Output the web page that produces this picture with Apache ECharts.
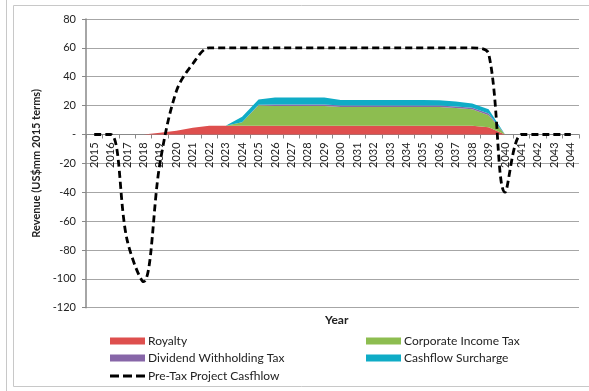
<!DOCTYPE html>
<html>
<head>
<meta charset="utf-8">
<script src="https://cdn.jsdelivr.net/npm/echarts@6/dist/echarts.min.js"></script>
<style>html,body{margin:0;padding:0;background:#fff}#c{width:589px;height:391px}</style>
</head>
<body>
<div id="c"></div>
<script>
var years = ['2015','2016','2017','2018','2019','2020','2021','2022','2023','2024','2025','2026','2027','2028','2029','2030','2031','2032','2033','2034','2035','2036','2037','2038','2039','2040','2041','2042','2043','2044'];
var royalty = [0,0,0,0,1.2,2.6,4.6,6,6,6,6,6,6,6,6,6,6,6,6,6,6,6,6,6,5,0,0,0,0,0];
var corporateIncomeTax = [0,0,0,0,0,0,0,0,0,2.4,14.3,13.8,13.8,13.8,13.8,13.1,13.1,13.1,13.1,13.1,13.1,13,12.3,11.5,8.4,0,0,0,0,0];
var dividendWithholdingTax = [0,0,0,0,0,0,0,0,0,0,0.3,1,1,1,1,1,1,1,1,1,1,1,1,1,1.1,0,0,0,0,0];
var cashflowSurcharge = [0,0,0,0,0,0,0,0,0,3.9,3.6,4.8,4.8,4.8,4.8,3.7,3.7,3.7,3.7,3.7,3.7,3.7,3.5,3,3,0,0,0,0,0];
var preTaxCashflow = [0,0,-73,-102,-20,30,49,60,60,60,60,60,60,60,60,60,60,60,60,60,60,60,60,60,56,-40,0,0,0,0];
var yTicks = [-120,-100,-80,-60,-40,-20,0,20,40,60,80];
var yMin = -120, yMax = 80;

var FONT = 'Lato';
var GRID_TOP = 19, GRID_BOTTOM = 83.3, H = 391;
var plotH = H - GRID_TOP - GRID_BOTTOM;
// distance from bottom of plot to the zero line (to place the category axis on zero)
var zeroOffset = -plotH * (0 - yMin) / (yMax - yMin);

var chart = echarts.init(document.getElementById('c'), null, {renderer:'canvas'});
function area(name, data, color){
  return {name:name, type:'line', stack:'tax', data:data, symbol:'none',
    lineStyle:{width:0, color:color}, itemStyle:{color:color},
    areaStyle:{color:color, opacity:1}, z:2};
}
function leg(name, left, top, icon, ih){
  return {data:[{name:name, icon:icon}], left:left, top:top, itemWidth:35, itemHeight:ih, itemGap:0,
    textStyle:{fontFamily:FONT, fontSize:12, color:'#222', padding:[0,0,0,-2]}};
}
var dashIcon = 'path://M0,0h9v3h-9zM13,0h9v3h-9zM26,0h9v3h-9z';
chart.setOption({
  animation:false,
  backgroundColor:'#fff',
  graphic:[
    {type:'rect', shape:{x:13.5, y:5.5, width:600, height:381}, style:{fill:'none', stroke:'#C8C8C8', lineWidth:1}, silent:true},
    {type:'line', shape:{x1:6.5, y1:0, x2:6.5, y2:391}, style:{stroke:'#C8C8C8', lineWidth:1}, silent:true}
  ],
  title:{text:'Year', left:320, top:309, textStyle:{fontFamily:FONT, fontSize:12, fontWeight:'bold', color:'#222'}},
  grid:{left:86, right:10, top:GRID_TOP, bottom:GRID_BOTTOM},
  legend:[
    leg('Royalty',105,330,'rect',7),
    leg('Dividend Withholding Tax',105,347,'rect',7),
    leg('Pre-Tax Project Casfhlow',105,365,dashIcon,3),
    leg('Corporate Income Tax',361,330,'rect',7),
    leg('Cashflow Surcharge',361,347,'rect',7)
  ],
  xAxis:{type:'category', data:years, boundaryGap:true, position:'bottom', offset:zeroOffset,
    axisLine:{onZero:false, lineStyle:{color:'#888', width:1}},
    axisTick:{show:true, interval:0, length:4, lineStyle:{color:'#888'}},
    axisLabel:{rotate:90, interval:0, margin:8, fontFamily:FONT, fontSize:11, color:'#222'},
    splitLine:{show:false}},
  yAxis:{type:'value', min:yMin, max:yMax, interval:20,
    name:'Revenue (US$mm 2015 terms)', nameLocation:'middle', nameGap:38,
    nameTextStyle:{fontFamily:FONT, fontSize:11, fontWeight:'bold', color:'#222'},
    axisLine:{show:true, lineStyle:{color:'#888', width:1.5}},
    axisTick:{show:true, length:4, lineStyle:{color:'#888'}},
    axisLabel:{margin:10, fontFamily:FONT, fontSize:11, color:'#222',
      formatter:function(v){ return yTicks.indexOf(v) < 0 ? '' : (v === 0 ? '-' : String(v)); }},
    splitLine:{show:true, lineStyle:{color:'#A6A6A6', width:1}}},
  series:[
    area('Royalty', royalty, '#DE4F4E'),
    area('Corporate Income Tax', corporateIncomeTax, '#8DBD50'),
    area('Dividend Withholding Tax', dividendWithholdingTax, '#8766A8'),
    area('Cashflow Surcharge', cashflowSurcharge, '#0FACC6'),
    {name:'Pre-Tax Project Casfhlow', type:'line', data:preTaxCashflow, symbol:'none', smooth:0.35, z:5,
      lineStyle:{color:'#000', width:2.8, type:[7,4]}, itemStyle:{color:'#000'}}
  ]
});
</script>
</body>
</html>
